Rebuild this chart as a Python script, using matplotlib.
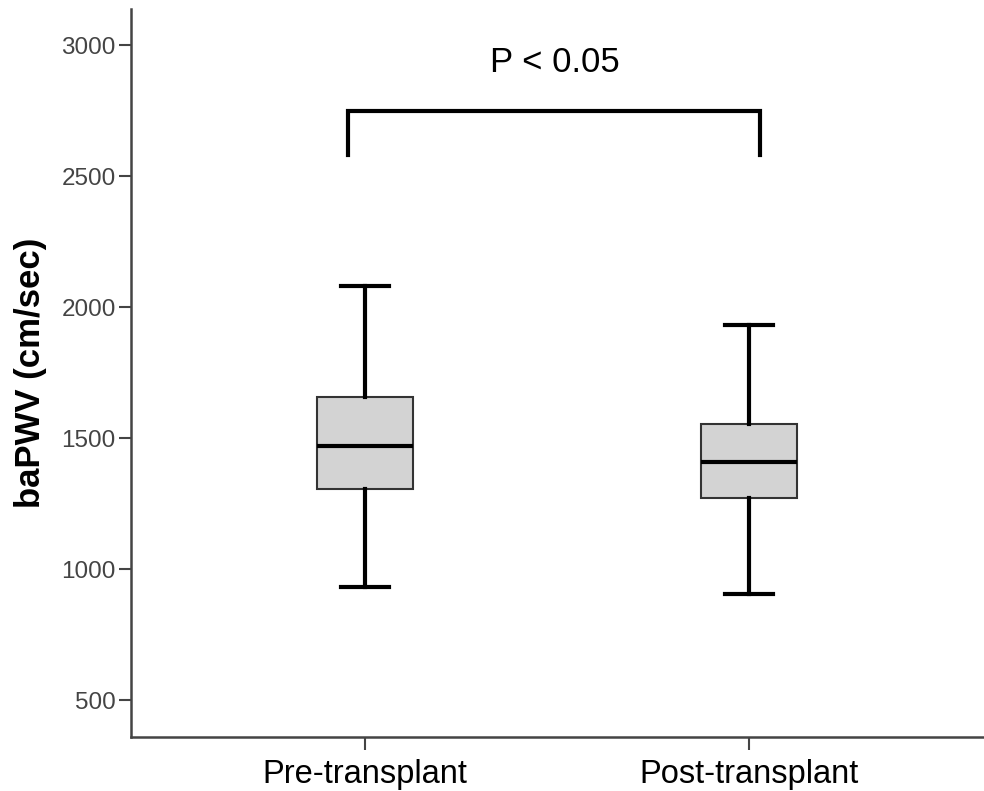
import matplotlib
matplotlib.use("Agg")
import matplotlib.pyplot as plt

plt.rcParams['font.family'] = ['Liberation Sans', 'DejaVu Sans']

# box statistics (cm/sec)
groups = ["Pre-transplant", "Post-transplant"]
whisker_low = [931, 903]
q1 = [1305, 1271]
median = [1469, 1408]
q3 = [1658, 1552]
whisker_high = [2082, 1931]

# significance bracket
bracket_x = [-0.044, 1.029]
bracket_top = 2748
bracket_bottom = 2580
p_label = "P < 0.05"

fig = plt.figure(figsize=(9.84, 7.91), dpi=100)
ax = fig.add_axes([0.1331, 0.0683, 0.8669, 0.920])

stats = []
for i, g in enumerate(groups):
    stats.append({"label": g, "whislo": whisker_low[i], "q1": q1[i], "med": median[i],
                  "q3": q3[i], "whishi": whisker_high[i], "fliers": []})

ax.bxp(stats, positions=range(len(groups)), widths=0.25, capwidths=0.125,
       showfliers=False, patch_artist=True,
       boxprops=dict(facecolor="#d3d3d3", edgecolor="#333333", linewidth=1.5),
       medianprops=dict(color="black", linewidth=3),
       whiskerprops=dict(color="black", linewidth=3),
       capprops=dict(color="black", linewidth=3))

# bracket and p label
ax.plot([bracket_x[0], bracket_x[0], bracket_x[1], bracket_x[1]],
        [bracket_bottom, bracket_top, bracket_top, bracket_bottom],
        color="black", linewidth=3, solid_joinstyle="miter")
ax.text(0.495, 2935, p_label, ha="center", va="center", fontsize=25, color="black")

ax.set_xlim(-0.609, 1.612)
ax.set_ylim(359, 3137)
ax.set_yticks([500, 1000, 1500, 2000, 2500, 3000])
ax.set_xticks(range(len(groups)))
ax.set_xticklabels(groups, fontsize=23.5)
ax.tick_params(axis="y", labelsize=17.5, colors="#444444", length=9, width=1.5, pad=2)
ax.tick_params(axis="x", colors="#444444", length=9, width=1.5, pad=7, labelcolor="black")
ax.set_ylabel("baPWV (cm/sec)", fontsize=25, fontweight="bold", labelpad=10)

for s in ["top", "right"]:
    ax.spines[s].set_visible(False)
for s in ["left", "bottom"]:
    ax.spines[s].set_color("#444444")
    ax.spines[s].set_linewidth(1.8)

fig.savefig("out.png", dpi=100)
